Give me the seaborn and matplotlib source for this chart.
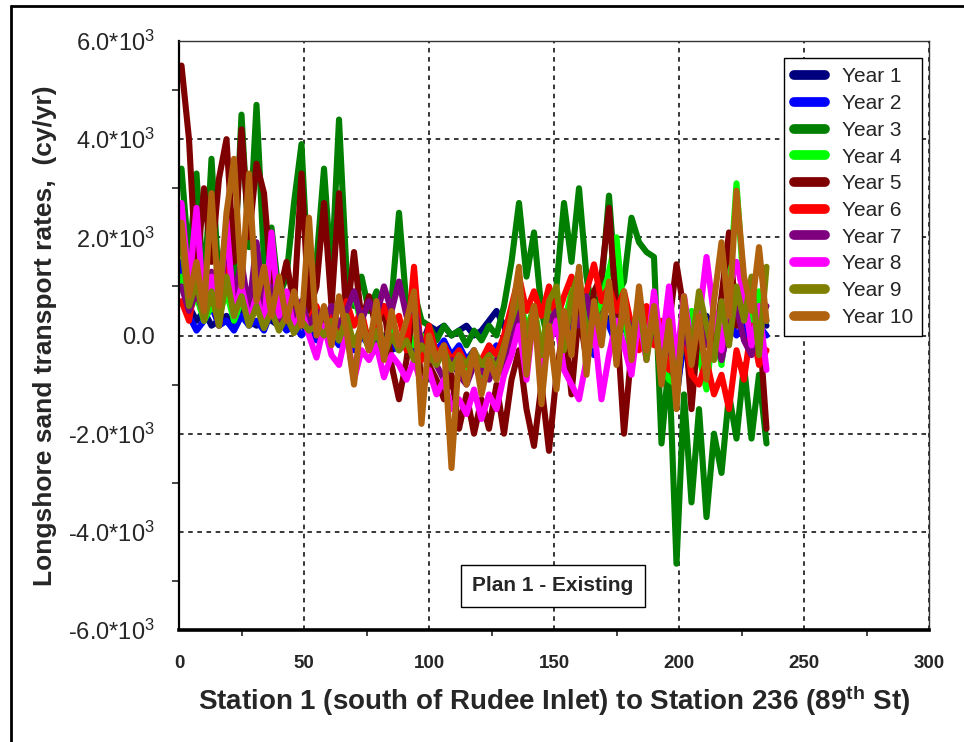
import numpy as np
import pandas as pd
import matplotlib
matplotlib.use('Agg')
import matplotlib.pyplot as plt
from matplotlib.lines import Line2D
from matplotlib.ticker import MultipleLocator, FuncFormatter
import seaborn as sns

sns.set_style('white')
plt.rcParams['font.family'] = ['Liberation Sans', 'DejaVu Sans']
plt.rcParams['mathtext.fontset'] = 'custom'
plt.rcParams['mathtext.rm'] = 'Liberation Sans'
plt.rcParams['mathtext.bf'] = 'Liberation Sans:bold'
plt.rcParams['mathtext.default'] = 'regular'
plt.rcParams['axes.unicode_minus'] = False

# station numbers (every 3rd station)
station = list(range(1, 236, 3))

# longshore transport rates, in 10^3 cy/yr
year1 = [1.4, 0.6, 0.3, 0.5, 0.2, 0.3, 0.4, 0.2, 0.5, 0.3,
         0.2, 0.4, 0.3, 0.2, 0.3, 0.1, 0.2, 0.1, 0.2, 0.0,
         0.1, -0.1, 0.0, -0.2, 0.1, -0.1, -0.2, 0.0, -0.3, -0.2,
         0.0, -0.3, -0.2, 0.2, 0.1, 0.2, 0.0, 0.1, 0.2, 0.0,
         0.1, 0.3, 0.5, 0.2, -0.2, 0.5, 0.2, 0.4, -0.3, 0.3,
         0.5, -0.2, 0.4, 0.6, 0.2, -0.1, 0.5, 0.3, 0.1, 0.4,
         -0.2, 0.3, 0.0, 0.2, -0.4, -0.8, -1.3, 0.0, 0.3, -0.2,
         0.4, 0.1, -0.3, 0.5, 0.2, 0.3, 0.0, 0.4, 0.2]
year2 = [1.5, 0.4, 0.1, 0.3, 0.6, 0.2, 0.3, 0.1, 0.4, 0.2,
         0.3, 0.1, 0.5, 0.3, 0.1, 0.2, 0.0, 0.2, -0.1, 0.1,
         0.0, -0.2, 0.1, -0.3, 0.0, -0.2, -0.1, -0.4, -0.2, -0.3,
         -0.1, -0.4, -0.2, 0.0, -0.3, -0.1, -0.4, -0.2, -0.5, -0.3,
         -0.9, -0.4, -0.2, -0.5, 0.2, 0.6, -0.1, 0.3, -0.4, 0.2,
         0.4, -0.3, 0.3, 0.5, 0.1, -0.4, 0.4, 0.2, -0.2, 0.3,
         -0.3, 0.2, -0.1, 0.1, -0.5, -0.6, -1.1, -0.2, 0.2, -0.3,
         0.3, -0.2, -0.5, 0.3, 0.0, 0.2, -0.3, 0.2, 0.0]
year3 = [3.4, 1.5, 3.3, 0.8, 3.6, 1.0, 2.2, 1.2, 4.5, 1.8,
         4.7, 1.5, 2.2, 0.8, 1.2, 2.7, 3.9, 0.9, 1.5, 3.4,
         1.2, 4.4, 1.3, 0.6, 1.2, 0.5, 0.9, 0.4, 0.7, 2.5,
         0.6, 0.9, 0.3, 0.2, -0.1, 0.2, 0.0, 0.1, -0.2, 0.1,
         -0.1, 0.2, 0.0, 0.6, 1.5, 2.7, 1.2, 2.1, 0.5, -0.2,
         1.0, 2.7, 1.5, 3.0, 1.2, 0.3, 1.0, 2.85, 0.8, 1.1,
         2.4, 1.9, 1.7, 1.6, -2.2, -0.5, -4.65, -1.2, -3.4, -1.5,
         -3.7, -2.0, -2.8, -1.2, -2.1, -0.6, -2.1, -0.8, -2.2]
year4 = [1.2, 0.5, 0.8, 0.3, 0.6, 0.4, 0.9, 0.3, 0.7, 0.4,
         0.8, 0.3, 0.5, 0.2, 0.6, 0.2, 0.3, 0.1, 0.4, 0.0,
         0.3, -0.1, 0.5, 0.85, 0.2, 0.0, 0.3, -0.2, 0.1, -0.3,
         0.2, -0.2, 0.0, -0.4, -0.5, -0.3, -0.6, -0.4, -0.7, -0.5,
         -0.8, -0.4, -0.6, -0.2, 0.4, 0.9, 0.1, 0.6, -0.3, 0.5,
         0.8, 0.2, 0.9, 1.1, 0.3, -0.2, 0.7, 1.3, 2.0, 0.4,
         -0.5, 0.6, 0.1, 0.5, -0.6, -0.9, -1.0, 0.2, 0.5, -0.4,
         -1.1, 0.3, -0.6, 0.8, 3.1, 0.9, 0.2, 0.9, 0.3]
year5 = [5.5, 4.0, 1.2, 3.0, 1.5, 3.2, 4.0, 1.5, 4.2, 2.0,
         3.5, 2.9, 1.0, 0.8, 1.5, 0.6, 3.3, 0.5, 1.0, 2.7,
         0.6, 2.9, 0.3, 1.7, 0.3, 0.8, 0.1, 0.6, -0.6, -1.3,
         -0.5, 0.7, -1.0, -0.6, -0.9, -1.3, -0.8, -1.9, -1.2, -2.0,
         -1.3, -1.9, -1.0, -2.0, -0.9, -0.3, -1.5, -2.25, -1.0, -2.35,
         -0.8, 0.3, -1.2, 0.5, -0.5, 0.9, 1.2, 2.6, 0.4, -2.0,
         -0.3, 0.6, 0.3, 0.5, -0.4, 0.2, 1.45, 0.5, -1.5, 0.3,
         0.0, -0.3, 0.8, 2.1, 0.2, 0.9, 0.6, 0.3, -1.9]
year6 = [0.7, 0.3, 1.2, 0.4, 0.9, 0.2, 1.4, 0.5, 1.0, 0.3,
         0.9, 0.2, 0.6, 0.4, 0.8, 0.1, 0.5, 0.3, 0.6, 0.1,
         0.4, 0.0, 0.7, 0.2, 0.5, -0.2, 0.3, 0.6, 0.2, 0.4,
         -0.3, 1.4, -0.5, 0.2, -0.4, -0.2, -0.5, -0.3, -0.6, -0.4,
         -0.5, -0.2, -0.4, 0.0, 0.6, 1.2, 0.5, 0.9, 0.4, 1.0,
         0.3, 0.8, 1.2, 0.6, 0.9, 1.45, 0.7, 1.0, 0.5, 0.9,
         0.2, -0.3, 0.6, -0.2, 0.3, -0.7, -0.4, 0.1, -0.8, -1.0,
         -0.5, -1.2, -0.8, -1.5, -0.3, -0.9, 0.2, -0.6, -0.3]
year7 = [1.0, 0.5, 0.9, 0.4, 1.3, 0.6, 2.0, 0.8, 1.5, 0.5,
         1.9, 0.6, 1.0, 0.3, 0.8, 0.4, 0.7, 0.2, 0.5, 0.3,
         0.6, 0.2, 0.5, 0.9, 0.3, 0.7, 0.4, 1.0, 0.5, 1.1,
         0.4, 0.6, -0.2, -0.4, -0.6, -0.9, -0.5, -0.8, -1.0, -0.6,
         -0.7, -0.9, -0.5, -0.8, 0.1, 0.5, -0.2, 0.4, -0.3, 0.3,
         0.5, -0.1, 0.6, 0.2, 0.8, 0.0, 0.4, 0.7, 0.1, 0.5,
         0.1, 0.3, -0.3, 0.2, -0.5, -0.2, -0.8, 0.1, -0.4, 0.3,
         -0.2, 0.4, -0.5, 0.2, 0.6, -0.1, -0.4, 0.3, 0.6]
year8 = [2.7, 1.0, 2.6, 0.5, 1.2, 0.6, 2.35, 0.4, 1.0, 0.3,
         0.8, 0.2, 2.1, 0.4, 0.9, 0.1, 0.5, 0.0, -0.45, 0.2,
         -0.4, -0.6, 0.1, -0.9, -0.3, -0.5, -0.2, -0.85, -0.4, -0.6,
         -0.9, -0.5, -1.0, -0.7, -1.2, -0.9, -1.5, -1.3, -1.6, -1.1,
         -1.7, -1.2, -1.5, -0.8, -0.4, 0.2, -0.9, 0.5, -0.6, -0.2,
         0.3, -0.7, -1.0, -1.3, -0.5, 0.2, -1.3, -0.4, 0.3, -0.2,
         -0.8, 0.4, -0.5, 0.9, -0.3, 1.0, -0.6, 0.8, -0.2, 0.3,
         1.6, 0.4, -0.3, 1.0, 1.5, 0.8, -0.2, 0.6, -0.7]
year9 = [1.9, 0.6, 1.1, 0.3, 0.9, 0.2, 1.2, 0.4, 0.8, 0.2,
         0.6, 0.15, 0.5, 0.1, 0.4, 0.05, 0.3, 0.1, 0.2, 0.0,
         0.3, -0.1, 0.4, -0.2, 0.2, -0.3, 0.1, -0.4, 0.0, -0.3,
         -0.1, -0.5, -0.2, -0.4, -0.6, -0.3, -0.7, -0.4, -0.6, -0.3,
         -0.6, -0.4, -0.7, -0.2, 0.3, 0.8, 0.0, 0.6, -0.4, 0.7,
         1.0, -0.3, 0.8, 1.3, -0.1, 0.5, 0.3, 0.9, -0.3, 0.6,
         -0.2, 0.8, -0.5, 0.5, -0.8, 0.2, -1.2, 0.6, -0.3, 0.9,
         0.2, -0.5, 0.7, -0.2, 1.0, 0.3, 1.2, -0.4, 1.4]
year10 = [2.3, 0.8, 1.5, 0.5, 2.9, 0.6, 2.5, 3.6, 1.0, 3.3,
          0.7, 1.4, 0.4, 1.2, 0.3, 0.9, 0.2, 2.4, 0.0, 0.6,
          -0.2, 0.8, 0.1, -1.0, 0.4, -0.3, 0.7, -0.5, 0.5, -0.2,
          0.3, 0.9, -1.8, 0.0, -0.5, -0.2, -2.7, -0.4, -1.0, -0.3,
          -1.2, -0.5, -0.9, -0.3, 0.4, 1.4, -0.8, 0.6, -1.4, 0.2,
          -1.1, 0.5, -0.4, 1.4, -0.8, 0.7, -0.2, 1.1, -0.6, 0.9,
          -0.5, 1.0, -0.3, 0.6, -1.0, 0.3, -1.5, 0.8, -0.6, 0.4,
          -0.9, 0.7, 1.9, 0.4, 2.95, 1.2, 0.5, 1.8, 0.3]

year_labels = ['Year 1', 'Year 2', 'Year 3', 'Year 4', 'Year 5',
               'Year 6', 'Year 7', 'Year 8', 'Year 9', 'Year 10']
year_colors = ['#00007f', '#0000ff', '#007f00', '#00ff00', '#7f0000',
               '#ff0000', '#7f007f', '#ff00ff', '#7f7f00', '#b0620f']
series = [year1, year2, year3, year4, year5, year6, year7, year8, year9, year10]

df = pd.concat([pd.DataFrame({'station': station, 'rate': vals, 'year': lab})
                for lab, vals in zip(year_labels, series)], ignore_index=True)

fig = plt.figure(figsize=(9.64, 7.42), dpi=100)
ax = fig.add_axes([179 / 964, 1 - 630 / 742, 750 / 964, 589 / 742])

sns.lineplot(data=df, x='station', y='rate', hue='year', hue_order=year_labels,
             palette=year_colors, estimator=None, sort=False, lw=4.4, ax=ax)

ax.set_xlim(0, 300)
ax.set_ylim(-6, 6)
ax.xaxis.set_major_locator(MultipleLocator(50))
ax.xaxis.set_minor_locator(MultipleLocator(25))
ax.yaxis.set_major_locator(MultipleLocator(2))
ax.yaxis.set_minor_locator(MultipleLocator(1))
ax.yaxis.set_major_formatter(FuncFormatter(
    lambda v, _: '0.0' if abs(v) < 1e-9 else '{:.1f}*10$^3$'.format(v)))

ax.set_axisbelow(True)
ax.grid(True, which='major', color='black', ls=(0, (3, 3)), lw=1.1)
ax.tick_params(axis='y', which='major', direction='inout', length=17, width=1.2,
               labelsize=17, pad=9)
ax.tick_params(axis='y', which='minor', direction='out', length=5, width=1.2, left=True)
ax.tick_params(axis='x', which='major', direction='out', length=11, width=1.2,
               labelsize=13.5, pad=7)
ax.tick_params(axis='x', which='minor', direction='out', length=4.5, width=1.2, bottom=True)
for lab in ax.get_xticklabels():
    lab.set_fontweight('bold')

for side in ['top', 'right']:
    ax.spines[side].set_linewidth(1.0)
    ax.spines[side].set_color('#333333')
ax.spines['left'].set_linewidth(1.6)
ax.spines['bottom'].set_linewidth(2.6)
for side in ['left', 'bottom']:
    ax.spines[side].set_color('black')

ax.set_xlabel(r'Station 1 (south of Rudee Inlet) to Station 236 (89$^{\mathbf{th}}$ St)',
              fontsize=20, fontweight='bold', labelpad=8)
ax.set_ylabel('Longshore sand transport rates,  (cy/yr)',
              fontsize=19, fontweight='bold', labelpad=8)

handles, labels = ax.get_legend_handles_labels()
leg = ax.legend(handles, labels, loc='upper left', bbox_to_anchor=(0.807, 0.971),
                borderaxespad=0, fontsize=15, frameon=True, fancybox=False,
                framealpha=1, edgecolor='black', handlelength=1.5,
                handletextpad=0.8, labelspacing=0.37, borderpad=0.45)
leg.get_frame().set_linewidth(1.0)
for h in leg.get_lines():
    h.set_linewidth(7)
    h.set_solid_capstyle('round')

ax.text(149.6, -5.1, 'Plan 1 - Existing', ha='center', va='center',
        fontsize=15, fontweight='bold',
        bbox=dict(boxstyle='square,pad=0.55', fc='white', ec='black', lw=1.0))

# outer frame of the original figure
fig.add_artist(Line2D([11 / 964, 11 / 964], [0, 1 - 6 / 742], color='black', lw=2,
                      transform=fig.transFigure))
fig.add_artist(Line2D([11 / 964, 1], [1 - 6 / 742, 1 - 6 / 742], color='black', lw=2,
                      transform=fig.transFigure))

fig.savefig('out.png', dpi=100)
